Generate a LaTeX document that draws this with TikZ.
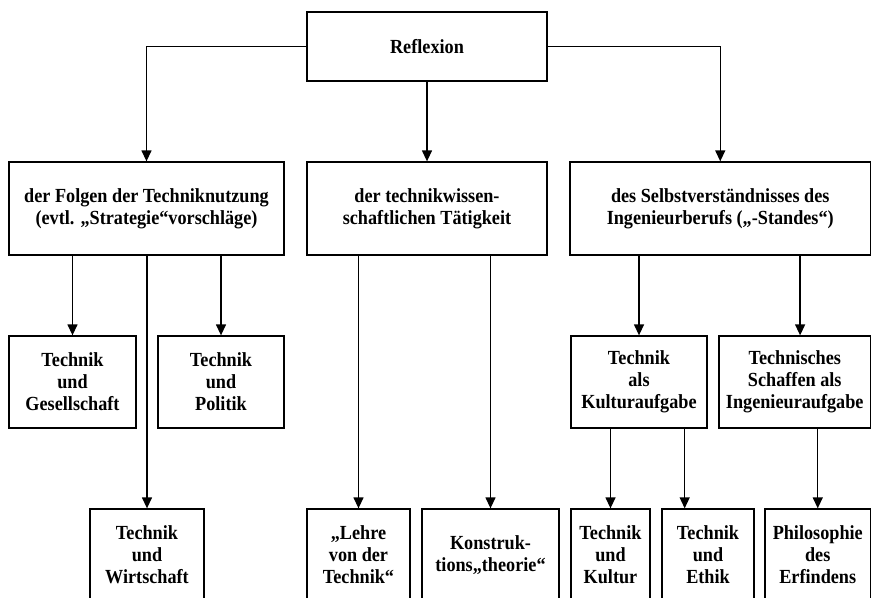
\documentclass[tikz,border=0pt]{standalone}
\usepackage{fontspec}
\setmainfont{Liberation Serif}[FakeStretch=0.91]
\usetikzlibrary{arrows.meta,calc}

\begin{document}
\begin{tikzpicture}[x=1pt, y=-1pt,
  box/.style={draw, line width=1.3pt, align=center, inner sep=0pt,
    font=\fontsize{20}{22}\selectfont\bfseries},
  link/.style={line width=1.3pt, -{Triangle[length=11pt,width=10pt]}}]
  \useasboundingbox (0,0) rectangle (872,597);
  \clip (0,0) rectangle (872,597);
  % Ebene 1
  \node[box, minimum width=240pt, minimum height=69pt] (refl) at (427,46.5) {Reflexion};
  % Ebene 2
  \node[box, minimum width=275pt, minimum height=93pt] (folgen) at (146.5,208.5) {der Folgen der Techniknutzung\\(evtl. „Strategie“vorschläge)};
  \node[box, minimum width=240pt, minimum height=93pt] (tw) at (427,208.5) {der technikwissen-\\schaftlichen Tätigkeit};
  \node[box, minimum width=300.5pt, minimum height=93pt] (selbst) at (720.25,208.5) {des Selbstverständnisses des\\Ingenieurberufs („-Standes“)};
  % Ebene 3
  \node[box, minimum width=127pt, minimum height=92pt] (gesell) at (72.5,382) {Technik\\und\\Gesellschaft};
  \node[box, minimum width=126pt, minimum height=92pt] (politik) at (221,382) {Technik\\und\\Politik};
  \node[box, minimum width=136pt, minimum height=92pt] (kultaufg) at (639,382) {Technik\\als\\Kulturaufgabe};
  \node[box, minimum width=151.5pt, minimum height=92pt] (ingaufg) at (794.75,382) {Technisches\\Schaffen als\\Ingenieuraufgabe};
  % Ebene 4
  \node[box, minimum width=114pt, minimum height=92pt] (wirtsch) at (147,555) {Technik\\und\\Wirtschaft};
  \node[box, minimum width=103pt, minimum height=92pt] (lehre) at (358.5,555) {„Lehre\\von der\\Technik“};
  \node[box, minimum width=137pt, minimum height=92pt] (konstr) at (490.5,555) {Konstruk-\\tions„theorie“};
  \node[box, minimum width=79pt, minimum height=92pt] (kultur) at (610.5,555) {Technik\\und\\Kultur};
  \node[box, minimum width=92pt, minimum height=92pt] (ethik) at (708,555) {Technik\\und\\Ethik};
  \node[box, minimum width=105.5pt, minimum height=92pt] (philo) at (817.75,555) {Philosophie\\des\\Erfindens};
  \coordinate (ethiktop) at ($(ethik.north west)!0.25!(ethik.north east)$);
  \coordinate (ingtop) at ($(ingaufg.north west)!0.535!(ingaufg.north east)$);
  % Verbindungen
  \draw[link] (refl.west) -| (folgen.north);
  \draw[link] (refl.south) -- (tw.north);
  \draw[link] (refl.east) -| (selbst.north);
  \draw[link] (folgen.south -| gesell.north) -- (gesell.north);
  \draw[link] (folgen.south -| politik.north) -- (politik.north);
  \draw[link] (folgen.south -| wirtsch.north) -- (wirtsch.north);
  \draw[link] (tw.south -| lehre.north) -- (lehre.north);
  \draw[link] (tw.south -| konstr.north) -- (konstr.north);
  \draw[link] (selbst.south -| kultaufg.north) -- (kultaufg.north);
  \draw[link] (selbst.south -| ingtop) -- (ingtop);
  \draw[link] (kultaufg.south -| kultur.north) -- (kultur.north);
  \draw[link] (kultaufg.south -| ethiktop) -- (ethiktop);
  \draw[link] (ingaufg.south -| philo.north) -- (philo.north);
\end{tikzpicture}
\end{document}
